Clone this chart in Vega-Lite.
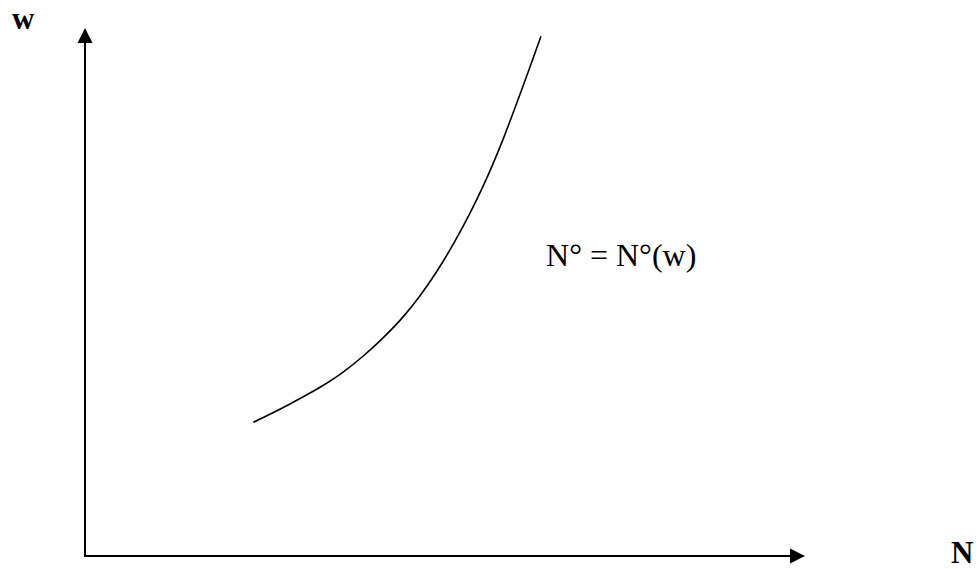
{
  "$schema": "https://vega.github.io/schema/vega-lite/v6.json",
  "width": 980,
  "height": 569,
  "autosize": {"type": "none"},
  "padding": 0,
  "background": "white",
  "config": {"view": {"stroke": null}},
  "datasets": {
    "curve": [
      {"N": 23.38, "w": 25.32},
      {"N": 28.47, "w": 28.80},
      {"N": 33.10, "w": 32.33},
      {"N": 35.42, "w": 34.41},
      {"N": 38.65, "w": 37.88},
      {"N": 41.43, "w": 41.36},
      {"N": 44.21, "w": 45.34},
      {"N": 46.53, "w": 49.30},
      {"N": 48.85, "w": 53.88},
      {"N": 51.15, "w": 59.07},
      {"N": 53.47, "w": 64.92},
      {"N": 55.10, "w": 69.47},
      {"N": 56.71, "w": 74.41},
      {"N": 58.10, "w": 79.05},
      {"N": 59.26, "w": 83.18},
      {"N": 60.65, "w": 88.30},
      {"N": 62.04, "w": 93.50},
      {"N": 63.33, "w": 98.43}
    ],
    "axes": [
      {"N": 0, "w": -0.2, "N2": 0, "w2": 97.5},
      {"N": -0.14, "w": 0, "N2": 98, "w2": 0}
    ],
    "arrows": [
      {"dir": "up", "N": 0, "w": 98.58},
      {"dir": "right", "N": 98.96, "w": 0}
    ],
    "axisLabels": [
      {"label": "w", "N": -10.14, "w": 99.81},
      {"label": "N", "N": 120.28, "w": -1.33}
    ],
    "note": [
      {"label": "N° = N°(w)", "N": 64.03, "w": 54.92}
    ]
  },
  "layer": [
    {
      "data": {"name": "axes"},
      "mark": {"type": "rule", "color": "black", "strokeWidth": 2},
      "encoding": {
        "x": {"field": "N", "type": "quantitative", "scale": {"domain": [-11.806, 124.306], "nice": false, "zero": false}, "axis": null},
        "y": {"field": "w", "type": "quantitative", "scale": {"domain": [-2.462, 105.303], "nice": false, "zero": false}, "axis": null},
        "x2": {"field": "N2"},
        "y2": {"field": "w2"}
      }
    },
    {
      "data": {"name": "arrows"},
      "mark": {"type": "point", "filled": true, "color": "black", "opacity": 1, "size": 225},
      "encoding": {
        "x": {"field": "N", "type": "quantitative", "axis": null},
        "y": {"field": "w", "type": "quantitative", "axis": null},
        "shape": {"field": "dir", "type": "nominal", "scale": {"domain": ["up", "right"], "range": ["M0,-1L1,1L-1,1Z", "M1,0L-1,-1L-1,1Z"]}, "legend": null}
      }
    },
    {
      "data": {"name": "curve"},
      "mark": {"type": "line", "color": "black", "strokeWidth": 1.6, "interpolate": "monotone"},
      "encoding": {
        "x": {"field": "N", "type": "quantitative", "axis": null},
        "y": {"field": "w", "type": "quantitative", "axis": null}
      }
    },
    {
      "data": {"name": "axisLabels"},
      "mark": {"type": "text", "font": "Liberation Serif", "fontWeight": "bold", "fontSize": 31, "align": "left", "baseline": "alphabetic", "color": "black"},
      "encoding": {
        "x": {"field": "N", "type": "quantitative", "axis": null},
        "y": {"field": "w", "type": "quantitative", "axis": null},
        "text": {"field": "label"}
      }
    },
    {
      "data": {"name": "note"},
      "mark": {"type": "text", "font": "Liberation Serif", "fontSize": 32, "align": "left", "baseline": "alphabetic", "color": "black"},
      "encoding": {
        "x": {"field": "N", "type": "quantitative", "axis": null},
        "y": {"field": "w", "type": "quantitative", "axis": null},
        "text": {"field": "label"}
      }
    }
  ]
}
